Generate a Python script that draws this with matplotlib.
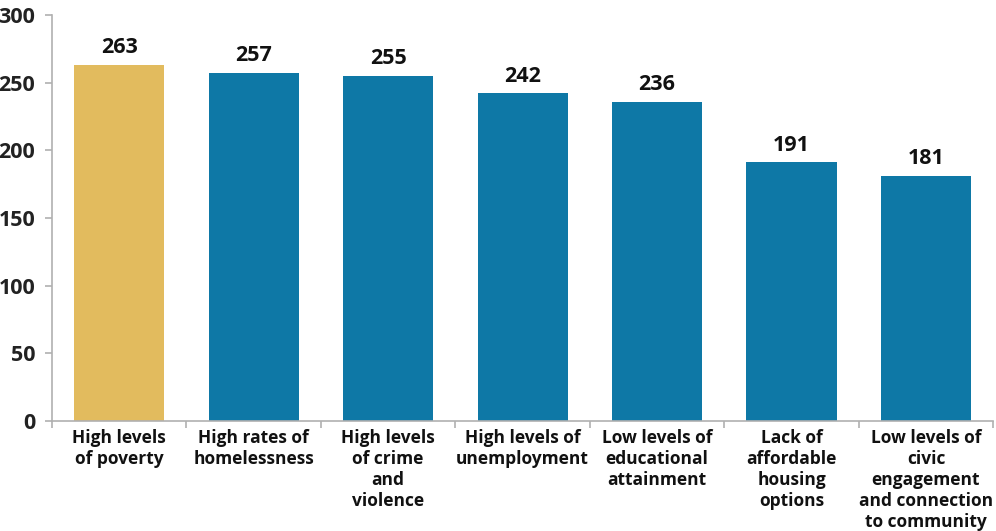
import numpy as np
import matplotlib.pyplot as plt

plt.rcParams['font.family'] = ['Open Sans', 'DejaVu Sans']
plt.rcParams['font.weight'] = 'bold'

categories = ["High levels\nof poverty", "High rates of\nhomelessness",
              "High levels\nof crime\nand\nviolence", "High levels of\nunemployment",
              "Low levels of\neducational\nattainment", "Lack of\naffordable\nhousing\noptions",
              "Low levels of\ncivic\nengagement\nand connection\nto community"]
values = [263, 257, 255, 242, 236, 191, 181]
y_ticks = [0, 50, 100, 150, 200, 250, 300]

gold = '#E2BB5E'
blue = '#0E78A6'
colors = [gold] + [blue] * (len(values) - 1)

fig = plt.figure(figsize=(9.96, 5.31), dpi=100)
ax = fig.add_axes([0.0522, 0.207, 0.945, 0.765])

x = np.arange(len(values))
bars = ax.bar(x, values, width=0.67, color=colors)

for xi, v in zip(x, values):
    ax.text(xi, v + 5, str(v), ha='center', va='bottom',
            fontsize=15.5, fontweight='bold', color='#111111')

ax.set_xlim(-0.5, len(values) - 0.5)
ax.set_ylim(0, 300)
ax.set_yticks(y_ticks)
ax.set_yticklabels([str(t) for t in y_ticks], fontsize=15.5, fontweight='bold', color='#222222')

ax.set_xticks(x)
ax.set_xticklabels(categories, fontsize=12.5, fontweight='bold', color='#111111',
                   linespacing=1.2, va='top')
ax.set_xticks(np.arange(-0.5, len(values), 1.0), minor=True)
ax.tick_params(axis='x', which='major', length=0, pad=6)
ax.tick_params(axis='x', which='minor', length=5, color='#B0B0B0', width=1.2)
ax.tick_params(axis='y', length=5, color='#B0B0B0', width=1.2, pad=7)

for s in ['top', 'right']:
    ax.spines[s].set_visible(False)
for s in ['left', 'bottom']:
    ax.spines[s].set_color('#B0B0B0')
    ax.spines[s].set_linewidth(1.2)

fig.savefig('out.png', dpi=100)
